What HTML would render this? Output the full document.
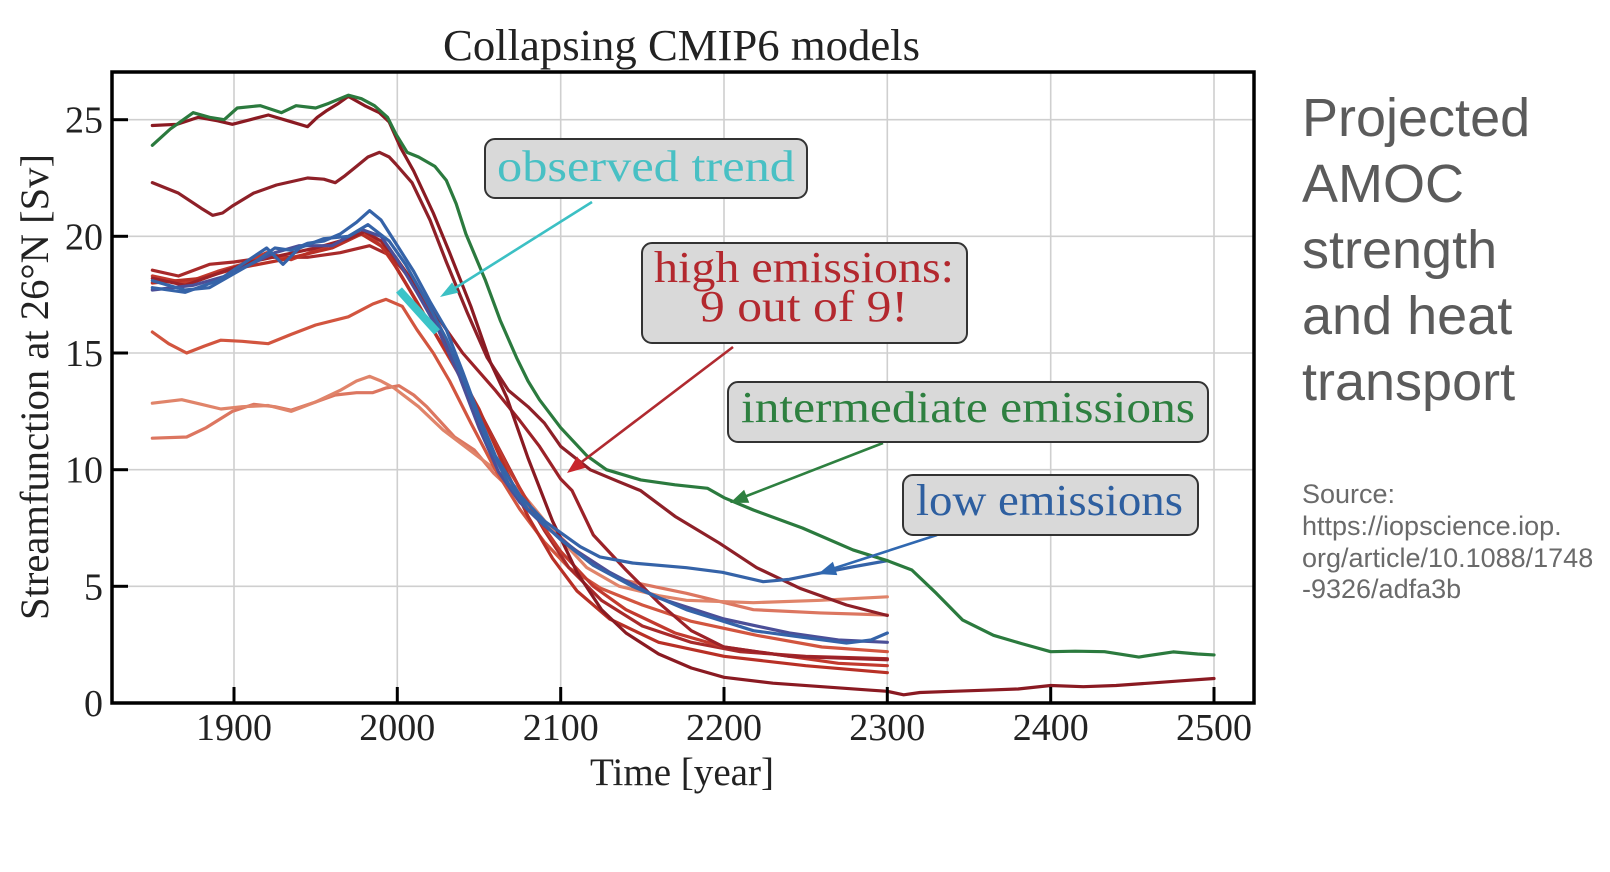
<!DOCTYPE html>
<html>
<head>
<meta charset="utf-8">
<style>
html,body{margin:0;padding:0;background:#fff;}
body{width:1610px;height:872px;overflow:hidden;}
svg{display:block;}
.serif{font-family:"Liberation Serif","DejaVu Serif",serif;}
.sans{font-family:"Liberation Sans","DejaVu Sans",sans-serif;}
</style>
</head>
<body>
<svg width="1610" height="872" viewBox="0 0 1610 872" xmlns="http://www.w3.org/2000/svg">
<rect width="1610" height="872" fill="#ffffff"/>

<!-- Title -->
<text class="serif" x="681.5" y="60" font-size="44" text-anchor="middle" fill="#222" textLength="477" lengthAdjust="spacingAndGlyphs">Collapsing CMIP6 models</text>

<!-- grid -->
<g stroke="#cfcfcf" stroke-width="1.6">
  <line x1="234" y1="72" x2="234" y2="703"/>
  <line x1="397.3" y1="72" x2="397.3" y2="703"/>
  <line x1="560.7" y1="72" x2="560.7" y2="703"/>
  <line x1="724" y1="72" x2="724" y2="703"/>
  <line x1="887.3" y1="72" x2="887.3" y2="703"/>
  <line x1="1050.7" y1="72" x2="1050.7" y2="703"/>
  <line x1="1214" y1="72" x2="1214" y2="703"/>
  <line x1="112" y1="586.3" x2="1254" y2="586.3"/>
  <line x1="112" y1="469.7" x2="1254" y2="469.7"/>
  <line x1="112" y1="353" x2="1254" y2="353"/>
  <line x1="112" y1="236.3" x2="1254" y2="236.3"/>
  <line x1="112" y1="119.7" x2="1254" y2="119.7"/>
</g>

<!-- data curves in data coordinates -->
<g transform="matrix(1.633333 0 0 -23.33333 -2869.333 703)" fill="none" stroke-linejoin="round" stroke-linecap="round">
  <polyline vector-effect="non-scaling-stroke" stroke="#dc7660" stroke-width="3.2" points="1850,11.35 1871,11.4 1883,11.8 1899,12.5 1912,12.8 1925,12.7 1935,12.55 1950,12.9 1962,13.2 1975,13.3 1985,13.3 1993,13.5 2001,13.6 2010,13.2 2018,12.7 2035,11.4 2047,10.85 2059,9.85 2081,8.4 2106,6.7 2136,5.3 2177,4.7 2218,4.0 2259,3.86 2300,3.77"/>
  <polyline vector-effect="non-scaling-stroke" stroke="#e0846a" stroke-width="3.2" points="1850,12.85 1868,13.0 1880,12.8 1892,12.6 1905,12.7 1921,12.75 1935,12.5 1950,12.9 1965,13.4 1975,13.8 1983,14.0 1990,13.8 1998,13.5 2013,12.7 2028,11.7 2045,10.8 2060,10.0 2075,9.1 2095,7.4 2116,5.8 2136,5.0 2160,4.6 2177,4.4 2218,4.3 2259,4.4 2300,4.55"/>
  <polyline vector-effect="non-scaling-stroke" stroke="#d2553f" stroke-width="3.2" points="1850,15.9 1860,15.4 1871,15.0 1882,15.3 1892,15.55 1905,15.5 1921,15.4 1935,15.8 1950,16.2 1970,16.55 1985,17.1 1993,17.3 2003,17.0 2012,16.0 2022,15.0 2032,13.8 2045,12.0 2060,10.0 2075,8.3 2090,6.9 2105,5.8 2125,4.9 2150,4.2 2180,3.5 2220,2.9 2260,2.4 2300,2.2"/>
  <polyline vector-effect="non-scaling-stroke" stroke="#a82a2a" stroke-width="3.2" points="1850,18.55 1866,18.3 1885,18.8 1900,18.9 1920,19.1 1945,19.1 1965,19.3 1983,19.6 1995,19.2 2003,18.6 2015,17.5 2030,15.3 2045,13.2 2060,11.2 2075,9.2 2090,7.4 2105,5.8 2125,4.4 2150,3.3 2180,2.6 2210,2.2 2250,2.0 2300,1.9"/>
  <polyline vector-effect="non-scaling-stroke" stroke="#c23a2e" stroke-width="3.2" points="1850,18.3 1870,18.0 1890,18.5 1905,18.8 1920,19.3 1935,19.0 1950,19.4 1965,19.8 1978,20.3 1990,19.6 2000,18.6 2012,17.2 2025,15.6 2040,13.8 2055,11.8 2070,9.8 2085,8.0 2100,6.5 2120,5.0 2140,4.0 2170,3.0 2200,2.4 2240,2.0 2270,1.7 2300,1.6"/>
  <polyline vector-effect="non-scaling-stroke" stroke="#b83026" stroke-width="3.2" points="1850,18.0 1880,18.2 1900,18.6 1930,19.0 1960,19.5 1978,20.1 1992,19.5 2005,18.0 2020,16.2 2035,14.5 2050,12.6 2065,10.2 2080,8.0 2095,6.2 2110,4.8 2130,3.6 2160,2.6 2200,2.0 2250,1.6 2300,1.3"/>
  <polyline vector-effect="non-scaling-stroke" stroke="#9c2228" stroke-width="3.2" points="1850,18.2 1870,17.9 1890,18.4 1910,18.9 1930,19.2 1950,19.5 1970,19.9 1980,20.2 1990,19.8 2000,19.0 2020,17.0 2040,15.0 2060,13.4 2075,12.1 2087,11.0 2100,9.6 2107,9.1 2120,7.2 2140,5.7 2160,4.3 2180,3.1 2200,2.4 2240,2.0 2300,1.85"/>
  <polyline vector-effect="non-scaling-stroke" stroke="#8e2028" stroke-width="3.2" points="1850,22.3 1866,21.85 1880,21.2 1887,20.9 1893,21.0 1899,21.3 1912,21.85 1926,22.2 1945,22.5 1955,22.45 1962,22.3 1968,22.6 1975,23.0 1982,23.4 1989,23.6 1995,23.4 1999,23.1 2009,22.3 2020,20.7 2030,18.9 2043,16.7 2055,14.8 2068,13.4 2080,12.7 2090,12.0 2100,11.0 2118,10.0 2135,9.5 2149,9.1 2170,8.0 2197,6.86 2220,5.8 2247,4.9 2275,4.2 2300,3.75"/>
  <polyline vector-effect="non-scaling-stroke" stroke="#8a1a22" stroke-width="3.2" points="1850,24.75 1865,24.8 1878,25.1 1890,24.95 1899,24.8 1910,25.0 1921,25.2 1933,24.95 1945,24.7 1951,25.1 1957,25.4 1964,25.7 1970,26.0 1980,25.6 1989,25.3 1995,24.9 2002,23.8 2010,22.8 2022,21.0 2032,19.3 2045,17.0 2057,14.6 2067,13.1 2080,10.5 2095,7.8 2110,5.6 2125,4.0 2140,3.0 2160,2.1 2180,1.5 2200,1.1 2230,0.85 2260,0.7 2290,0.55 2300,0.5 2310,0.35 2320,0.45 2340,0.5 2360,0.55 2380,0.6 2400,0.75 2420,0.7 2440,0.75 2460,0.85 2480,0.95 2500,1.05"/>
  <polyline vector-effect="non-scaling-stroke" stroke="#4b4f98" stroke-width="3.2" points="1850,17.7 1875,17.9 1895,18.3 1910,18.8 1925,19.3 1940,19.6 1960,19.6 1978,20.3 1990,20.0 2000,19.0 2012,17.6 2025,16.0 2038,14.0 2050,11.8 2062,9.9 2075,8.6 2090,7.6 2110,6.5 2130,5.6 2160,4.5 2200,3.6 2240,3.0 2270,2.7 2300,2.6"/>
  <polyline vector-effect="non-scaling-stroke" stroke="#3563a8" stroke-width="3.2" points="1850,17.8 1870,17.6 1890,18.1 1905,18.8 1920,19.5 1930,18.8 1940,19.5 1955,19.9 1970,20.0 1982,20.5 1995,19.8 2005,18.8 2018,17.2 2030,15.6 2042,13.6 2055,11.2 2068,9.4 2080,8.3 2100,7.0 2120,5.9 2144,5.0 2177,4.0 2218,3.1 2250,2.8 2275,2.57 2290,2.7 2300,3.0"/>
  <polyline vector-effect="non-scaling-stroke" stroke="#3563a8" stroke-width="3.2" points="1850,18.1 1870,17.7 1885,17.8 1900,18.4 1915,19.0 1925,19.5 1935,19.4 1945,19.7 1955,19.8 1965,20.1 1975,20.6 1983,21.1 1990,20.7 2000,19.6 2010,18.5 2020,17.2 2030,16.0 2040,14.2 2050,12.3 2060,10.6 2075,8.9 2090,7.8 2100,7.3 2112,6.7 2124,6.26 2144,6.0 2177,5.8 2199,5.6 2224,5.2 2240,5.3 2259,5.57 2280,5.85 2300,6.1"/>
  <polyline vector-effect="non-scaling-stroke" stroke="#2b7a3e" stroke-width="3.2" points="1850,23.9 1861,24.6 1875,25.3 1885,25.1 1894,25.0 1902,25.5 1916,25.6 1929,25.3 1938,25.6 1950,25.5 1958,25.7 1970,26.05 1978,25.9 1986,25.6 1994,25.1 1999,24.4 2006,23.6 2013,23.4 2023,23.0 2030,22.4 2036,21.4 2042,20.1 2048,19.1 2054,18.1 2063,16.4 2073,14.8 2080,13.8 2087,13.0 2100,11.8 2116,10.6 2128,10.0 2149,9.56 2170,9.35 2190,9.2 2200,8.8 2218,8.27 2248,7.5 2279,6.56 2300,6.1 2315,5.7 2330,4.7 2346,3.56 2365,2.9 2382,2.55 2400,2.2 2415,2.22 2433,2.2 2454,1.97 2475,2.19 2490,2.1 2500,2.06"/>
</g>

<!-- observed trend thick segment -->
<line x1="399" y1="290" x2="437" y2="332" stroke="#3cc4c8" stroke-width="8"/>

<!-- annotation arrows -->
<g stroke-width="2.6">
  <line x1="592" y1="202" x2="452" y2="290" stroke="#3cc0c4"/>
  <polygon points="440,297 458.5,292.6 452.1,282.4" fill="#3cc0c4" stroke="none"/>
  <line x1="733" y1="347" x2="579" y2="464" stroke="#b02a30"/>
  <polygon points="567,473 585.6,467.7 577.1,456.5" fill="#c8262c" stroke="none"/>
  <line x1="883" y1="443" x2="744" y2="497" stroke="#2e8040"/>
  <polygon points="730,503 749.3,502.7 744.1,489.8" fill="#2e8040" stroke="none"/>
  <line x1="937" y1="535" x2="832" y2="569" stroke="#3068b0"/>
  <polygon points="818,574 837.3,575.1 832.9,561.7" fill="#3068b0" stroke="none"/>
</g>

<!-- annotation boxes -->
<g fill="#d9d9d9" stroke="#333" stroke-width="2">
  <rect x="485" y="139" width="322" height="59" rx="10"/>
  <rect x="642" y="243" width="325" height="100" rx="10"/>
  <rect x="728" y="382" width="480" height="60" rx="10"/>
  <rect x="903" y="475" width="295" height="60" rx="10"/>
</g>
<g class="serif" font-size="44" text-anchor="middle">
  <text x="646" y="181" fill="#48c0c4" textLength="298" lengthAdjust="spacingAndGlyphs">observed trend</text>
  <text x="804" y="282" fill="#b3282e" textLength="300" lengthAdjust="spacingAndGlyphs">high emissions:</text>
  <text x="804" y="321" fill="#b3282e" textLength="208" lengthAdjust="spacingAndGlyphs">9 out of 9!</text>
  <text x="968" y="422" fill="#2e8040" textLength="454" lengthAdjust="spacingAndGlyphs">intermediate emissions</text>
  <text x="1049.5" y="515" fill="#2e5fa0" textLength="267" lengthAdjust="spacingAndGlyphs">low emissions</text>
</g>

<!-- axes frame -->
<rect x="112" y="72" width="1142" height="631" fill="none" stroke="#000" stroke-width="3.5"/>
<!-- ticks -->
<g stroke="#000" stroke-width="3">
  <line x1="234" y1="703" x2="234" y2="687"/>
  <line x1="397.3" y1="703" x2="397.3" y2="687"/>
  <line x1="560.7" y1="703" x2="560.7" y2="687"/>
  <line x1="724" y1="703" x2="724" y2="687"/>
  <line x1="887.3" y1="703" x2="887.3" y2="687"/>
  <line x1="1050.7" y1="703" x2="1050.7" y2="687"/>
  <line x1="1214" y1="703" x2="1214" y2="687"/>
  <line x1="112" y1="586.3" x2="128" y2="586.3"/>
  <line x1="112" y1="469.7" x2="128" y2="469.7"/>
  <line x1="112" y1="353" x2="128" y2="353"/>
  <line x1="112" y1="236.3" x2="128" y2="236.3"/>
  <line x1="112" y1="119.7" x2="128" y2="119.7"/>
</g>

<!-- tick labels -->
<g class="serif" font-size="38" fill="#222" text-anchor="middle">
  <text x="234" y="740">1900</text>
  <text x="397.3" y="740">2000</text>
  <text x="560.7" y="740">2100</text>
  <text x="724" y="740">2200</text>
  <text x="887.3" y="740">2300</text>
  <text x="1050.7" y="740">2400</text>
  <text x="1214" y="740">2500</text>
</g>
<g class="serif" font-size="38" fill="#222" text-anchor="end">
  <text x="103" y="716">0</text>
  <text x="103" y="599.3">5</text>
  <text x="103" y="482.7">10</text>
  <text x="103" y="366">15</text>
  <text x="103" y="249.3">20</text>
  <text x="103" y="132.7">25</text>
</g>

<!-- axis labels -->
<text class="serif" x="682" y="785" font-size="39" text-anchor="middle" fill="#222" textLength="184" lengthAdjust="spacingAndGlyphs">Time [year]</text>
<text class="serif" transform="translate(48,387) rotate(-90)" x="0" y="0" font-size="40" text-anchor="middle" fill="#222" textLength="466" lengthAdjust="spacingAndGlyphs">Streamfunction at 26°N [Sv]</text>

<!-- right panel -->
<g class="sans" font-size="54" fill="#5b5b5b">
  <text x="1302" y="136">Projected</text>
  <text x="1302" y="202">AMOC</text>
  <text x="1302" y="268">strength</text>
  <text x="1302" y="334">and heat</text>
  <text x="1302" y="400">transport</text>
</g>
<g class="sans" font-size="27" fill="#6a6a6a">
  <text x="1302" y="503">Source:</text>
  <text x="1302" y="535">https://iopscience.iop.</text>
  <text x="1302" y="567">org/article/10.1088/1748</text>
  <text x="1302" y="598">-9326/adfa3b</text>
</g>
</svg>
</body>
</html>
